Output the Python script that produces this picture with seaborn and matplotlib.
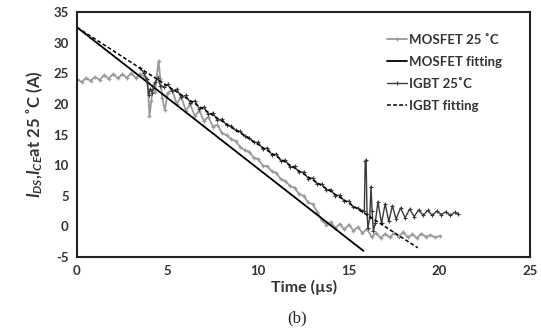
import numpy as np
import pandas as pd
import matplotlib
matplotlib.use("Agg")
import matplotlib.pyplot as plt
import seaborn as sns

# MOSFET 25 C measured current (us, A)
mosfet_t = [0.0, 0.25, 0.5, 0.75, 1.0, 1.25, 1.5, 1.75, 2.0, 2.25, 2.5, 2.75, 3.0, 3.25,
            3.5, 3.75, 3.9, 4.0, 4.1, 4.2, 4.3, 4.4, 4.5, 4.6, 4.7, 4.85,
            5.0, 5.25, 5.5, 5.75, 6.0, 6.25, 6.5, 6.75, 7.0, 7.25, 7.5, 7.75,
            8.0, 8.25, 8.5, 8.75, 9.0, 9.25, 9.5, 9.75, 10.0, 10.25, 10.5, 10.75,
            11.0, 11.25, 11.5, 11.75, 12.0, 12.25, 12.5, 12.75, 13.0, 13.25,
            13.5, 13.75, 14.0, 14.25, 14.5, 14.75, 15.0, 15.25, 15.5, 15.75,
            16.0, 16.25, 16.5, 16.75, 17.0, 17.25, 17.5, 17.75, 18.0, 18.25,
            18.5, 18.75, 19.0, 19.25, 19.5, 19.75, 20.0]
mosfet_i = [24.0, 23.6, 24.2, 23.8, 24.4, 23.9, 24.7, 24.1, 24.9, 24.2, 24.8, 24.3, 25.0, 24.2,
            24.9, 24.4, 23.5, 18.0, 20.5, 23.0, 22.0, 24.5, 27.0, 24.0, 21.0, 19.0,
            21.8, 22.3, 20.0, 21.2, 18.9, 19.9, 18.0, 18.9, 17.2, 17.9, 16.3, 16.6,
            15.2, 14.9, 14.3, 13.9, 13.0, 12.4, 12.2, 11.2, 11.0, 9.9, 9.8, 9.0,
            8.7, 7.7, 7.4, 6.6, 6.3, 5.3, 5.0, 3.9, 3.6, 2.4,
            1.0, 0.3, 0.7, -0.3, 0.4, -0.5, 0.3, -0.7, -0.1, -1.1,
            -0.4, -1.7, -1.1, -1.9, -1.2, -1.8, -1.1, -1.7, -0.9, -1.8,
            -1.3, -1.9, -1.2, -1.7, -1.4, -1.8, -1.6]

# IGBT 25 C measured current (us, A)
igbt_t = [3.5, 3.7, 3.85, 3.95, 4.05, 4.15, 4.3, 4.45, 4.6, 4.8,
          5.0, 5.25, 5.5, 5.75, 6.0, 6.25, 6.5, 6.75, 7.0, 7.25, 7.5, 7.75,
          8.0, 8.25, 8.5, 8.75, 9.0, 9.25, 9.5, 9.75, 10.0, 10.25, 10.5, 10.75,
          11.0, 11.25, 11.5, 11.75, 12.0, 12.25, 12.5, 12.75, 13.0, 13.25,
          13.5, 13.75, 14.0, 14.25, 14.5, 14.75, 15.0, 15.25, 15.5, 15.75,
          15.85, 15.9, 15.95, 16.0, 16.05, 16.15, 16.22, 16.28, 16.35, 16.45,
          16.6, 16.8, 17.0, 17.2, 17.4, 17.6, 17.85, 18.1, 18.35, 18.6, 18.85,
          19.1, 19.35, 19.6, 19.85, 20.1, 20.35, 20.6, 20.85, 21.0]
igbt_i = [25.8, 25.0, 24.0, 21.5, 22.5, 21.8, 23.5, 24.2, 23.0, 22.8,
          23.2, 22.1, 22.4, 21.1, 21.4, 20.2, 20.5, 19.2, 19.5, 18.3, 18.5, 17.3,
          17.5, 16.5, 16.4, 15.7, 15.5, 14.8, 14.5, 13.7, 13.7, 12.6, 12.8, 11.7,
          11.8, 10.7, 10.8, 9.7, 9.8, 8.8, 8.9, 7.8, 7.9, 6.9,
          6.9, 6.0, 6.0, 5.0, 5.1, 4.1, 4.1, 3.1, 3.0, 2.5,
          2.5, 10.6, 10.8, 2.0, -0.3, 1.5, 6.5, 2.5, -0.8, 0.5,
          4.0, 0.5, 3.7, 0.8, 3.4, 1.2, 3.0, 1.4, 2.8, 1.6, 2.7,
          1.8, 2.6, 1.8, 2.5, 1.9, 2.4, 1.8, 2.3, 2.1]

# linear fits (end points)
mosfet_fit_t = [0.0, 15.8]
mosfet_fit_i = [32.5, -4.0]
igbt_fit_t = [0.0, 18.8]
igbt_fit_i = [32.5, -3.5]

x_ticks = [0, 5, 10, 15, 20, 25]
y_ticks = [-5, 0, 5, 10, 15, 20, 25, 30, 35]

sns.set_style("white")
plt.rcParams['font.family'] = ['Lato', 'DejaVu Sans']
plt.rcParams['mathtext.fontset'] = 'custom'
plt.rcParams['mathtext.it'] = 'Lato:italic:bold'
plt.rcParams['mathtext.rm'] = 'Lato:bold'
plt.rcParams['axes.unicode_minus'] = False

fig = plt.figure(figsize=(5.41, 3.31), dpi=100)
ax = fig.add_axes([0.1423, 0.2236, 0.8377, 0.7401])

text_col = '#333333'
m_col = '#9a9a9a'
g_col = '#3a3a3a'
sns.lineplot(x=mosfet_t, y=mosfet_i, ax=ax, color=m_col, lw=1.3, linestyle='-',
             marker='+', markersize=3.5, markeredgewidth=0.9, markeredgecolor=m_col,
             estimator=None, label='MOSFET 25 ˚C')
sns.lineplot(x=mosfet_fit_t, y=mosfet_fit_i, ax=ax, color='black', lw=1.3,
             estimator=None, label='MOSFET fitting')
sns.lineplot(x=igbt_t, y=igbt_i, ax=ax, color=g_col, lw=1.0, linestyle='-',
             marker='+', markersize=3.5, markeredgewidth=0.8, markeredgecolor=g_col,
             estimator=None, label='IGBT 25˚C')
sns.lineplot(x=igbt_fit_t, y=igbt_fit_i, ax=ax, color='black', lw=1.1,
             linestyle=(0, (2.5, 1.5)), estimator=None, label='IGBT fitting')

ax.set_xlim(0, 25)
ax.set_ylim(-5, 35)
ax.set_xticks(x_ticks)
ax.set_yticks(y_ticks)
ax.tick_params(direction='in', length=3, width=0.6, color='#888888',
               labelsize=9.5, labelcolor=text_col, pad=6)
for lab in ax.get_xticklabels() + ax.get_yticklabels():
    lab.set_fontweight('bold')
for sp in ax.spines.values():
    sp.set_color('#222222')
    sp.set_linewidth(1.5)

ax.set_xlabel('Time (µs)', fontsize=11.5, fontweight='bold', color=text_col, labelpad=2)
ax.set_ylabel(r'$I_{DS}$,$I_{CE}$at 25 ˚C (A)', fontsize=12, fontweight='bold',
              color=text_col, labelpad=6)

leg = ax.legend(loc='upper left', bbox_to_anchor=(0.684, 0.91), frameon=False,
                borderpad=0, borderaxespad=0, fontsize=9.5, handlelength=1.5,
                handletextpad=0.15, labelspacing=0.75)
for t in leg.get_texts():
    t.set_fontweight('bold')
    t.set_color(text_col)

fig.text(0.549, 0.025, '(b)', fontsize=12, family='Liberation Serif', ha='center')

fig.savefig('out.png', dpi=100)
